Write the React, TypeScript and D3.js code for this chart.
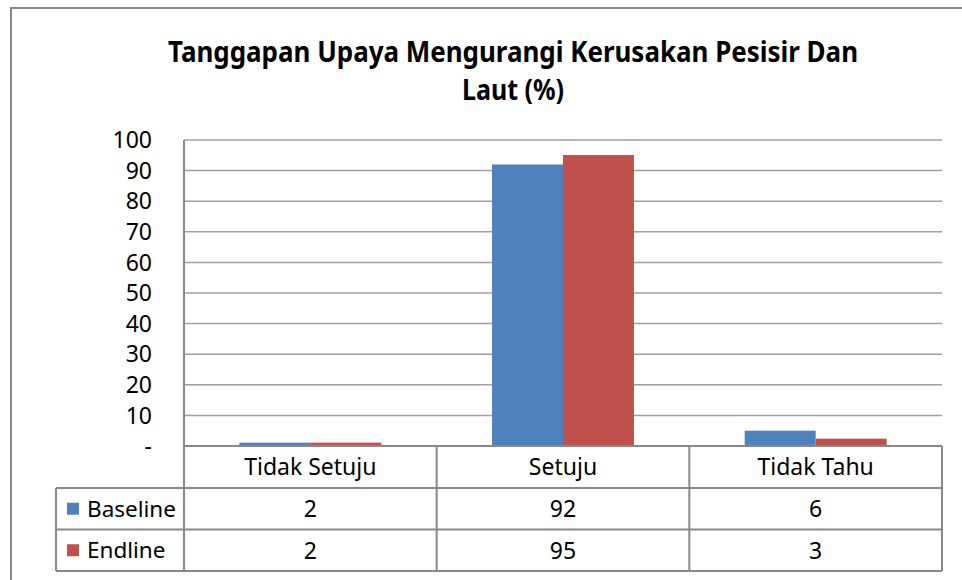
import React from 'react';
import * as d3 from 'd3';

const categories = ['Tidak Setuju', 'Setuju', 'Tidak Tahu'];
const seriesNames = ['Baseline', 'Endline'];
const baselineValues = [1.1, 92, 5.0];
const endlineValues = [1.1, 95.1, 2.4];
// values as printed in the data table
const baselineLabels = ['2', '92', '6'];
const endlineLabels = ['2', '95', '3'];
const yTicks = [0, 10, 20, 30, 40, 50, 60, 70, 80, 90, 100];
const colors = ['#4F81BD', '#C0504D'];

const W = 962;
const H = 580;
const plot = { left: 184, right: 942, top: 140, bottom: 446 };
const rowH = [42, 41.5, 41.5];
const tableLeft = 56;
const font = '"Noto Sans", sans-serif';
const lineColor = '#888888';

const App: React.FC = () => {
  const series = [baselineValues, endlineValues];
  const labels = [baselineLabels, endlineLabels];

  const x = d3.scaleBand<string>().domain(categories).range([plot.left, plot.right]).padding(0);
  const xInner = d3
    .scaleBand<string>()
    .domain(seriesNames)
    .range([0, x.bandwidth()])
    .paddingInner(0)
    .paddingOuter(0.78);
  const y = d3.scaleLinear().domain([0, 100]).range([plot.bottom, plot.top]);

  const rowTop = [plot.bottom, plot.bottom + rowH[0], plot.bottom + rowH[0] + rowH[1]];
  const tableBottom = rowTop[2] + rowH[2];

  return (
    <svg width={W} height={H} style={{ position: 'absolute', left: 0, top: 0, background: '#fff' }}>
      <rect x={11} y={8} width={W} height={H} fill="#fff" stroke={lineColor} strokeWidth={2} />

      <text x={513} y={62} textAnchor="middle" fontFamily={font} fontWeight="bold" fontSize={28}
        textLength={690} lengthAdjust="spacingAndGlyphs">
        Tanggapan Upaya Mengurangi Kerusakan Pesisir Dan
      </text>
      <text x={513} y={100} textAnchor="middle" fontFamily={font} fontWeight="bold" fontSize={28}
        textLength={102} lengthAdjust="spacingAndGlyphs">
        Laut (%)
      </text>

      {/* gridlines */}
      {yTicks.filter((t) => t > 0).map((t) => (
        <line key={t} x1={plot.left} x2={plot.right} y1={y(t)} y2={y(t)} stroke="#a0a0a0" strokeWidth={1.5} />
      ))}

      {/* y tick labels */}
      {yTicks.map((t) => (
        <text key={t} x={152} y={y(t)} dy="0.36em" textAnchor="end" fontFamily={font} fontSize={23} fill="#000">
          {t === 0 ? '-' : t}
        </text>
      ))}

      {/* bars */}
      {series.map((vals, si) =>
        categories.map((c, ci) => (
          <rect
            key={`${si}-${ci}`}
            x={(x(c) ?? 0) + (xInner(seriesNames[si]) ?? 0)}
            y={y(vals[ci])}
            width={xInner.bandwidth()}
            height={plot.bottom - y(vals[ci])}
            fill={colors[si]}
          />
        ))
      )}

      {/* axis + data table */}
      <line x1={plot.left} x2={plot.left} y1={plot.top} y2={tableBottom} stroke={lineColor} strokeWidth={2} />
      <line x1={plot.left} x2={plot.right} y1={plot.bottom} y2={plot.bottom} stroke={lineColor} strokeWidth={2} />
      {[rowTop[1], rowTop[2], tableBottom].map((ry, i) => (
        <line key={i} x1={tableLeft} x2={plot.right} y1={ry} y2={ry} stroke={lineColor} strokeWidth={2} />
      ))}
      <line x1={tableLeft} x2={tableLeft} y1={rowTop[1]} y2={tableBottom} stroke={lineColor} strokeWidth={2} />
      {categories.map((c) => (
        <line key={c} x1={(x(c) ?? 0) + x.bandwidth()} x2={(x(c) ?? 0) + x.bandwidth()}
          y1={plot.bottom} y2={tableBottom} stroke={lineColor} strokeWidth={2} />
      ))}

      {categories.map((c) => (
        <text key={c} x={(x(c) ?? 0) + x.bandwidth() / 2} y={rowTop[0] + rowH[0] / 2} dy="0.36em"
          textAnchor="middle" fontFamily={font} fontSize={23}>
          {c}
        </text>
      ))}

      {seriesNames.map((s, si) => (
        <g key={s}>
          <rect x={67} y={rowTop[si + 1] + rowH[si + 1] / 2 - 6} width={12} height={12} fill={colors[si]} />
          <text x={87} y={rowTop[si + 1] + rowH[si + 1] / 2} dy="0.36em" fontFamily={font} fontSize={22.5}>
            {s}
          </text>
          {categories.map((c, ci) => (
            <text key={c} x={(x(c) ?? 0) + x.bandwidth() / 2} y={rowTop[si + 1] + rowH[si + 1] / 2} dy="0.36em"
              textAnchor="middle" fontFamily={font} fontSize={23}>
              {labels[si][ci]}
            </text>
          ))}
        </g>
      ))}
    </svg>
  );
};

export default App;
